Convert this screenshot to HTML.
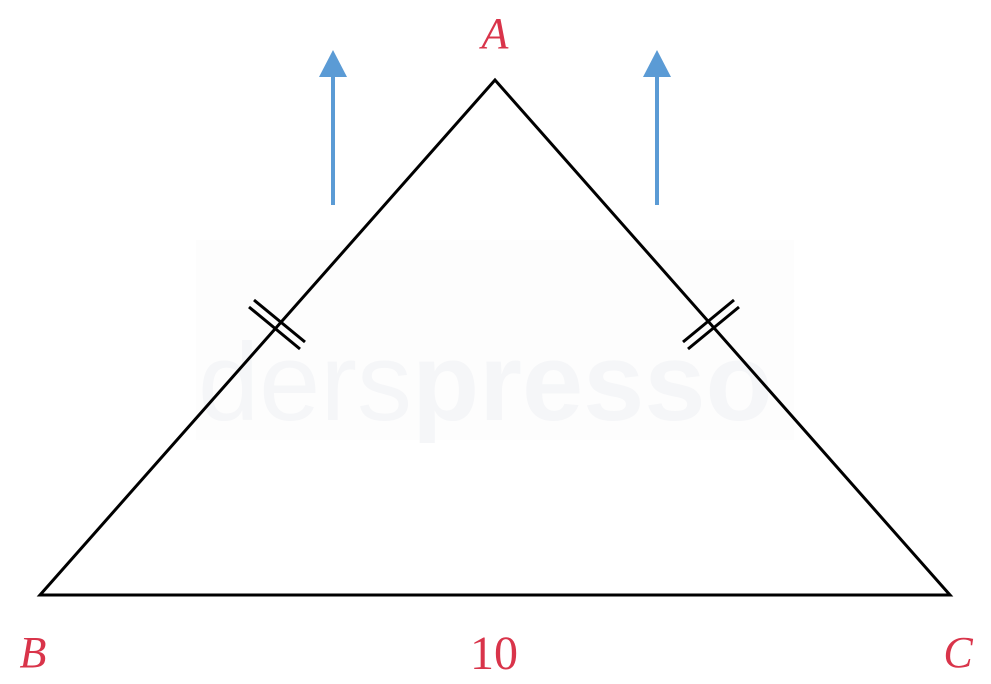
<!DOCTYPE html>
<html><head><style>body{margin:0;background:#fff}svg{display:block}</style></head>
<body>
<svg width="991" height="684" viewBox="0 0 991 684" xmlns="http://www.w3.org/2000/svg">
<rect x="196" y="240" width="598" height="200" fill="#fdfdfd"/>
<text x="198" y="420" font-family="Liberation Sans, sans-serif" font-size="110" fill="#f5f6f8">ders<tspan font-weight="bold">presso</tspan></text>
<g stroke="#000" stroke-width="3" fill="none" stroke-linecap="butt">
<polygon points="495,80 40,595 950,595" stroke-linejoin="miter"/>
<line x1="249" y1="307" x2="300" y2="349"/>
<line x1="254" y1="300" x2="305" y2="342"/>
<line x1="683" y1="342" x2="734" y2="300"/>
<line x1="688" y1="349" x2="739" y2="307"/>
</g>
<g fill="#5b9bd5" stroke="#5b9bd5">
<line x1="333" y1="205" x2="333" y2="72" stroke-width="4"/>
<polygon points="319,77 347,77 333,50" stroke="none"/>
<line x1="657" y1="205" x2="657" y2="72" stroke-width="4"/>
<polygon points="643,77 671,77 657,50" stroke="none"/>
</g>
<g font-family="Liberation Serif, serif" font-size="44" fill="#d9344a" text-anchor="middle">
<text x="495" y="48" font-style="italic">A</text>
<text x="33" y="667" font-style="italic">B</text>
<text x="958" y="667" font-style="italic">C</text>
<text x="494" y="669" font-size="48">10</text>
</g>
</svg>
</body></html>
